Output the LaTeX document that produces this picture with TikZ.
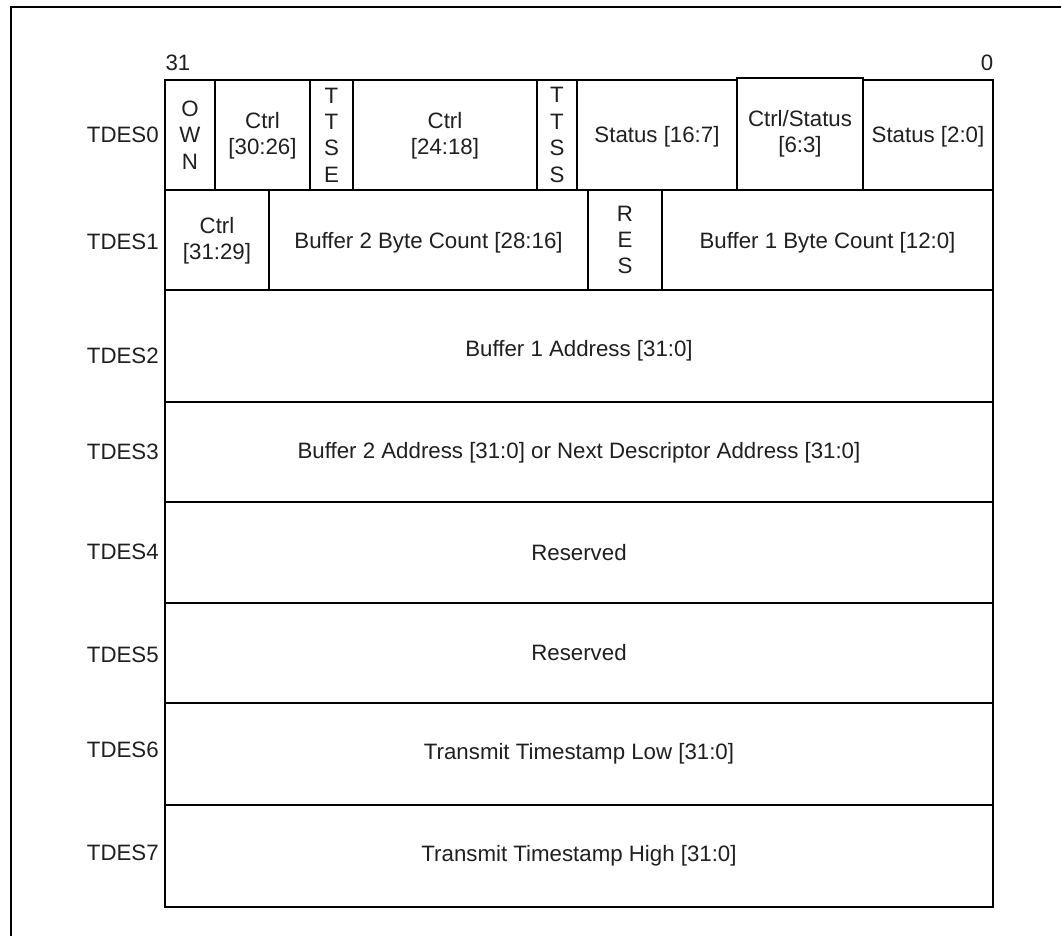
\documentclass[tikz,border=0pt]{standalone}
\usepackage{fontspec}
\setmainfont{Liberation Sans}
\begin{document}
\begin{tikzpicture}[x=0.75pt,y=-0.75pt,
  cellline/.style={line width=1.6pt},
  celltext/.style={align=center,inner sep=0pt,text=black!88,font=\fontsize{16.7}{19.8}\selectfont},
  rowlabel/.style={anchor=east,inner sep=0pt,text=black!88,font=\fontsize{16.7}{19.8}\selectfont},
  bitlabel/.style={inner sep=0pt,text=black!88,font=\fontsize{16.7}{19.8}\selectfont}]
\useasboundingbox (0,0) rectangle (1061,936);
\newcommand\cell[7]{%
  \draw[cellline] (#2,#3) rectangle (#4,#5);
  \node[celltext] (#1) at ({(#2+#4)/2},{(#3+#5)/2+#6}) {#7};}
% frame
\draw[line width=1.5pt] (11,936) -- (11,7) -- (1061,7);
% bit numbers
\node[bitlabel] (b31) at (178,63) {31};
\node[bitlabel] (b0) at (987,63) {0};
% TDES0
\cell{own}{165}{80}{215}{190}{0}{O\\W\\N}
\cell{ctrlA}{215}{80}{310}{190}{1}{Ctrl\\{[30:26]}}
\cell{ttse}{310}{80}{353}{190}{0}{T\\T\\S\\E}
\cell{ctrlB}{353}{80}{537}{190}{1}{Ctrl\\{[24:18]}}
\cell{ttss}{537}{80}{577}{190}{0}{T\\T\\S\\S}
\cell{statA}{577}{80}{737}{190}{2}{Status [16:7]}
\cell{cstat}{737}{78}{863}{190}{0}{Ctrl/Status\\{[6:3]}}
\cell{statB}{863}{80}{993}{190}{2}{Status [2:0]}
% TDES1
\cell{ctrlC}{165}{190}{269}{290}{1}{Ctrl\\{[31:29]}}
\cell{bb2}{269}{190}{588}{290}{3}{Buffer 2 Byte Count [28:16]}
\cell{res}{588}{190}{662}{290}{0}{R\\E\\S}
\cell{bb1}{662}{190}{993}{290}{3}{Buffer 1 Byte Count [12:0]}
% TDES2..7
\cell{ba1}{165}{290}{993}{402}{5}{Buffer 1 Address [31:0]}
\cell{ba2}{165}{402}{993}{502}{1}{Buffer 2 Address [31:0] or Next Descriptor Address [31:0]}
\cell{rsv4}{165}{502}{993}{603}{0}{Reserved}
\cell{rsv5}{165}{603}{993}{703}{0}{Reserved}
\cell{tsl}{165}{703}{993}{805}{0}{Transmit Timestamp Low [31:0]}
\cell{tsh}{165}{805}{993}{907}{0}{Transmit Timestamp High [31:0]}
% row labels
\node[rowlabel] (t0) at (159,135) {TDES0};
\node[rowlabel] (t1) at (159,242) {TDES1};
\node[rowlabel] (t2) at (159,356) {TDES2};
\node[rowlabel] (t3) at (159,452) {TDES3};
\node[rowlabel] (t4) at (159,552) {TDES4};
\node[rowlabel] (t5) at (159,655) {TDES5};
\node[rowlabel] (t6) at (159,750) {TDES6};
\node[rowlabel] (t7) at (159,853) {TDES7};
\end{tikzpicture}
\end{document}
